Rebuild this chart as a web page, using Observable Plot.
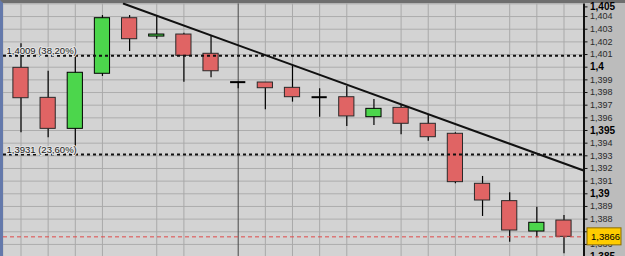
<!DOCTYPE html>
<html><head><meta charset="utf-8">
<script src="https://cdn.jsdelivr.net/npm/d3@7"></script>
<script src="https://cdn.jsdelivr.net/npm/@observablehq/plot@0.6"></script>
<style>
html,body{margin:0;padding:0;background:#bcbcbc;overflow:hidden;width:625px;height:256px;}
#wrap{width:622px;height:254px;border-top:3px solid #6e6e6e;border-left:3px solid #6479ab;}
</style></head><body><div id="wrap"></div>
<script>
// Candle data (index 0..20)
const candleIndex = d3.range(21);
const open  = [1.39995, 1.39758, 1.39513, 1.39948, 1.40387, 1.40242, 1.40258, 1.40106, 1.39882, 1.39879, 1.39837, 1.39763, 1.39763, 1.39605, 1.39679, 1.39553, 1.39474, 1.39079, 1.38942, 1.38702, 1.38789];
const close = [1.39755, 1.39513, 1.39956, 1.40387, 1.40221, 1.40258, 1.40090, 1.39968, 1.39882, 1.39834, 1.39763, 1.39763, 1.39611, 1.39671, 1.39553, 1.39447, 1.39092, 1.38947, 1.38710, 1.38771, 1.38660];
const high  = [1.40185, 1.39968, 1.40114, 1.40408, 1.40408, 1.40400, 1.40269, 1.40250, 1.39882, 1.39879, 1.40013, 1.39829, 1.39848, 1.39745, 1.39697, 1.39618, 1.39482, 1.39137, 1.39008, 1.38894, 1.38829];
const low   = [1.39482, 1.39442, 1.39342, 1.39927, 1.40124, 1.40221, 1.39882, 1.39916, 1.39829, 1.39663, 1.39724, 1.39605, 1.39532, 1.39539, 1.39466, 1.39415, 1.39079, 1.38821, 1.38618, 1.38652, 1.38526];

// Fibonacci levels
const fibLevels = [1.4009, 1.3931];
const fibLabels = ["1,4009 (38,20%)", "1,3931 (23,60%)"];

// Trend line anchor points (candle index, price)
const trendIndex = [3.786, 20.72];
const trendPrice = [1.40501, 1.39184];

// Last price
const lastPrice = 1.3866;

// Axis ticks
const topTick = [1.405];
const majorTicks = [1.4, 1.395, 1.39, 1.385];
const minorTicks = [1.404, 1.403, 1.402, 1.401, 1.399, 1.398, 1.397, 1.396, 1.394, 1.393, 1.392, 1.391, 1.389, 1.388, 1.387, 1.386];

// Vertical grid positions (candle indices) and session separator
const vGridIndex = [0, 1, 2, 3, 5, 6, 9, 10, 11, 12, 14, 15, 16, 18, 19, 20];
const separatorIndex = [8];

const candles = candleIndex.map(i => ({i, open: open[i], close: close[i], high: high[i], low: low[i]}));
const up = candles.filter(d => d.close > d.open);
const down = candles.filter(d => d.close < d.open);
const doji = candles.filter(d => d.close === d.open);
const trend = trendIndex.map((i, k) => ({i, p: trendPrice[k]}));
const fib = fibLevels.map((level, k) => ({level, label: fibLabels[k]}));
const allTicks = [...topTick, ...minorTicks, ...majorTicks];

const fmt = p => String(+p.toFixed(4)).replace(".", ",");
const hw = 0.28;
const xDomain = [-0.6446, 20.737];
const font = "'Liberation Sans', Arial, sans-serif";

const chart = Plot.plot({
  width: 622, height: 254,
  marginLeft: 0, marginRight: 41.5, marginTop: 0.4, marginBottom: 0.4,
  x: {type: "linear", domain: xDomain, axis: null},
  y: {domain: [1.385, 1.405], label: null},
  style: {background: "#bcbcbc", fontFamily: font, overflow: "visible"},
  marks: [
    Plot.frame({fill: "#d3d3d3", stroke: null}),
    Plot.ruleY(allTicks, {stroke: "#adadad"}),
    Plot.ruleX(vGridIndex, {stroke: "#a9a9a9"}),
    Plot.ruleX(separatorIndex, {stroke: "#484848"}),
    Plot.ruleX(candles, {x: "i", y1: "low", y2: "high", stroke: "#000", strokeWidth: 1.2}),
    Plot.rect(down, {x1: d => d.i - hw, x2: d => d.i + hw, y1: "open", y2: "close", fill: "#e06464", stroke: "#2a2a2a", strokeWidth: 1}),
    Plot.rect(up, {x1: d => d.i - hw, x2: d => d.i + hw, y1: "open", y2: "close", fill: "#4cd64c", stroke: "#000", strokeWidth: 1}),
    Plot.ruleY(doji, {y: "open", x1: d => d.i - hw, x2: d => d.i + hw, stroke: "#000", strokeWidth: 2}),
    Plot.ruleY([lastPrice], {stroke: "#e04848", strokeDasharray: "4,3"}),
    Plot.ruleY(fib, {y: "level", stroke: "#111", strokeWidth: 2, strokeDasharray: "3,3"}),
    Plot.line(trend, {x: "i", y: "p", stroke: "#111", strokeWidth: 2}),
    Plot.text(fib, {y: "level", text: "label", frameAnchor: "left", textAnchor: "start", dx: 3, dy: -5, fontSize: 9.5, fill: "#222", stroke: "#e4e4e4", strokeWidth: 2}),
    Plot.ruleX([xDomain[1]], {stroke: "#111", strokeWidth: 2}),
    Plot.axisY(minorTicks, {anchor: "right", tickSize: 3, tickPadding: 3, tickFormat: fmt, fontSize: 9, stroke: "#111", fill: "#2a2a2a", label: null}),
    Plot.axisY(majorTicks, {anchor: "right", tickSize: 3, tickPadding: 3, tickFormat: fmt, fontSize: 10, fontWeight: "bold", stroke: "#111", fill: "#000", label: null}),
    Plot.axisY(topTick, {anchor: "right", tickSize: 3, tickPadding: 3, tickFormat: fmt, fontSize: 10, fontWeight: "bold", stroke: "#111", fill: "#000", label: null, dy: 3}),
    Plot.text([lastPrice], {y: d => d, text: d => fmt(d), frameAnchor: "right", textAnchor: "start", dx: 7, fontSize: 9.5, fill: "#000"})
  ]
});
document.getElementById("wrap").appendChild(chart);

// Yellow box behind last-price label, positioned with the chart's own y scale
const label = Array.from(chart.querySelectorAll("text")).find(t => t.textContent === fmt(lastPrice));
if (label) {
  const yPix = chart.scale("y").apply(lastPrice);
  const frameRight = 622 - 41.5;
  const rect = document.createElementNS("http://www.w3.org/2000/svg", "rect");
  rect.setAttribute("x", frameRight + 3.5);
  rect.setAttribute("y", yPix - 8.5);
  rect.setAttribute("width", 34);
  rect.setAttribute("height", 17);
  rect.setAttribute("fill", "#ffcc00");
  rect.setAttribute("stroke", "#8a6d00");
  rect.setAttribute("stroke-width", 1);
  const g = label.closest("g") || label;
  g.parentNode.insertBefore(rect, g);
}
</script></body></html>
